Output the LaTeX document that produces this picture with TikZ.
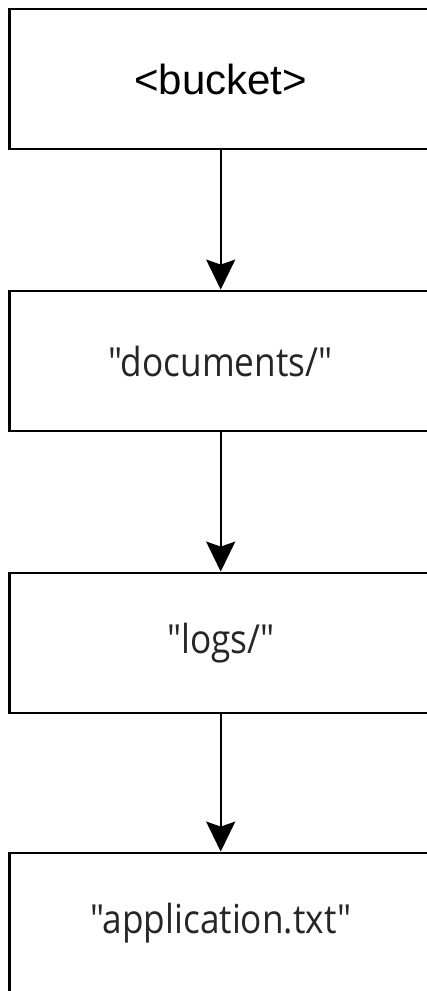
\documentclass[tikz,border=0pt]{standalone}
\usepackage{fontspec}
\setmainfont{Liberation Sans}
\newfontfamily\keyfont[FakeStretch=0.88]{Open Sans}
\usetikzlibrary{arrows.meta}
\begin{document}
\begin{tikzpicture}[x=1pt,y=-1pt,
  box/.style={draw,line width=2.8pt,minimum width=423pt,minimum height=140pt,inner sep=0pt},
  key/.style={font=\keyfont\fontsize{40}{48}\selectfont,text=black!85},
  arr/.style={-{Stealth[length=30pt,width=29pt,inset=5pt]},line width=2.2pt}]
\useasboundingbox (0,0) rectangle (427,991);
\clip (0,0) rectangle (427,991);
\node[box,font=\fontsize{42}{48}\selectfont] (b) at (220.7,79) {<bucket>};
\node[box,key] (d) at (220.7,361) {"documents/"};
\node[box,key] (l) at (220.7,643) {"logs/"};
\node[box,key] (a) at (220.7,923) {"application.txt"};

\draw[arr] (b)--(d);
\draw[arr] (d)--(l);
\draw[arr] (l)--(a);
\end{tikzpicture}
\end{document}
